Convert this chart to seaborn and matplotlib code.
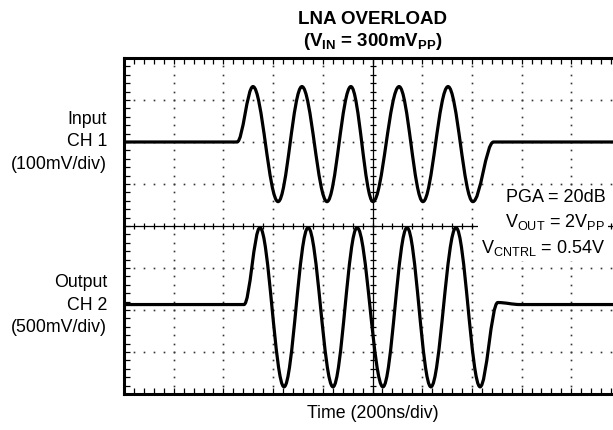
import numpy as np
import matplotlib
matplotlib.use("Agg")
import matplotlib.pyplot as plt
from matplotlib.path import Path
from matplotlib.patches import PathPatch
import seaborn as sns

# Scope trace key points: time (ns) and level (mV) at each turning point
in_t_ns = [0, 455, 519, 620, 716, 817, 913, 1002, 1107, 1203, 1304, 1404, 1487, 2000]
in_mv = [0, 0, 132, -142, 132, -142, 132, -142, 132, -142, 132, -142, 0, 0]

out_t_ns = [0, 483, 547, 644, 741, 841, 938, 1042, 1139, 1235, 1336, 1433, 1504, 1594, 2000]
out_mv = [65, 65, 981, -915, 981, -915, 981, -915, 981, -915, 981, -915, 89, 65, 65]

# Channel settings: vertical scale (mV/div) and screen centre (div)
in_scale_mv, in_center_div = 100, 2.0
out_scale_mv, out_center_div = 500, -2.0
time_per_div_ns = 200

channel_labels = ["Input\nCH 1\n(100mV/div)", "Output\nCH 2\n(500mV/div)"]
settings_text = ("PGA = 20dB\n"
                 r"V$_{\mathregular{OUT}}$ = 2V$_{\mathregular{PP}}$" "\n"
                 r"V$_{\mathregular{CNTRL}}$ = 0.54V")

sns.set_theme(style="white", rc={"axes.edgecolor": "black", "text.color": "black"})
plt.rcParams["font.family"] = ["Liberation Sans", "DejaVu Sans"]
plt.rcParams["mathtext.fontset"] = "custom"
plt.rcParams["mathtext.rm"] = "Liberation Sans"
plt.rcParams["mathtext.bf"] = "Liberation Sans:bold"

fig = plt.figure(figsize=(6.13, 4.30), dpi=100)
ax = fig.add_axes([124 / 613, 36 / 430, 497 / 613, 336 / 430])
ax.set_xlim(0, 10 * time_per_div_ns)
ax.set_ylim(-4, 4)


def trace_path(t, v, scale, center, c=0.36):
    """Smooth scope trace: cubic Bezier between turning points (flat tangents)."""
    y = [center + val / scale for val in v]
    verts = [(t[0], y[0])]
    codes = [Path.MOVETO]
    for i in range(1, len(t)):
        dt = t[i] - t[i - 1]
        verts += [(t[i - 1] + c * dt, y[i - 1]), (t[i] - c * dt, y[i]), (t[i], y[i])]
        codes += [Path.CURVE4] * 3
    return Path(verts, codes)


# Graticule: dotted division lines
div_x = time_per_div_ns
minor_x = np.arange(div_x / 5, 10 * div_x, div_x / 5)
minor_y = np.arange(-3.8, 3.81, 0.2)
for yv in [-3, -2, -1, 1, 2, 3]:
    ax.plot(minor_x, np.full_like(minor_x, yv), ls="none", marker="s", ms=1.2,
            mew=0, color="#333333", zorder=1)
for k in [1, 2, 3, 4, 6, 7, 8, 9]:
    ax.plot(np.full_like(minor_y, k * div_x), minor_y, ls="none", marker="s", ms=1.2,
            mew=0, color="#333333", zorder=1)

# Centre axes with small ticks
ax.axhline(0, color="black", lw=0.9, zorder=2)
ax.axvline(5 * div_x, color="black", lw=0.9, zorder=2)
ax.plot(minor_x, np.zeros_like(minor_x), ls="none", marker="|", ms=5, mew=0.9,
        color="black", zorder=2)
ax.plot(np.full_like(minor_y, 5 * div_x), minor_y, ls="none", marker="_", ms=5, mew=0.9,
        color="black", zorder=2)

# Border ticks
ax.set_xticks(np.arange(0, 10 * div_x + 1, div_x / 5))
ax.set_yticks(np.arange(-4, 4.01, 0.2))
ax.tick_params(axis="x", direction="in", length=4.5, width=0.9, top=True, bottom=True,
               labelbottom=False, color="black")
ax.tick_params(axis="y", direction="in", length=4.5, width=0.9, left=True, right=False,
               labelleft=False, color="black")
for side in ["left", "top", "bottom"]:
    ax.spines[side].set_linewidth(2.2)
ax.spines["right"].set_visible(False)
ax.grid(False)

# Traces
ax.add_patch(PathPatch(trace_path(in_t_ns, in_mv, in_scale_mv, in_center_div),
                       fill=False, lw=2.3, color="black", capstyle="round",
                       joinstyle="round", zorder=4))
ax.add_patch(PathPatch(trace_path(out_t_ns, out_mv, out_scale_mv, out_center_div),
                       fill=False, lw=2.3, color="black", capstyle="round",
                       joinstyle="round", zorder=4))

# Settings block
ax.text(1937, 0.05, settings_text, ha="right", va="center", multialignment="right",
        fontsize=13, linespacing=1.4, zorder=3, color="black",
        bbox=dict(facecolor="white", edgecolor="none", pad=2))

# Channel labels
fig.text(107 / 613, 1 - 142 / 430, channel_labels[0], ha="right", va="center",
         multialignment="right", fontsize=12.8, linespacing=1.45, color="black")
fig.text(107 / 613, 1 - 305 / 430, channel_labels[1], ha="right", va="center",
         multialignment="right", fontsize=12.8, linespacing=1.45, color="black")

# Title and x label
fig.text(373 / 613, 1 - 20 / 430, "LNA OVERLOAD", ha="center", va="center",
         fontsize=13.5, fontweight="bold", color="black")
fig.text(373 / 613, 1 - 41 / 430, r"(V$_{\mathbf{IN}}$ = 300mV$_{\mathbf{PP}}$)",
         ha="center", va="center", fontsize=13.5, fontweight="bold", color="black")
fig.text(373 / 613, 1 - 413 / 430, "Time (200ns/div)", ha="center", va="center",
         fontsize=12.8, color="black")

fig.savefig("out.png", dpi=100)
